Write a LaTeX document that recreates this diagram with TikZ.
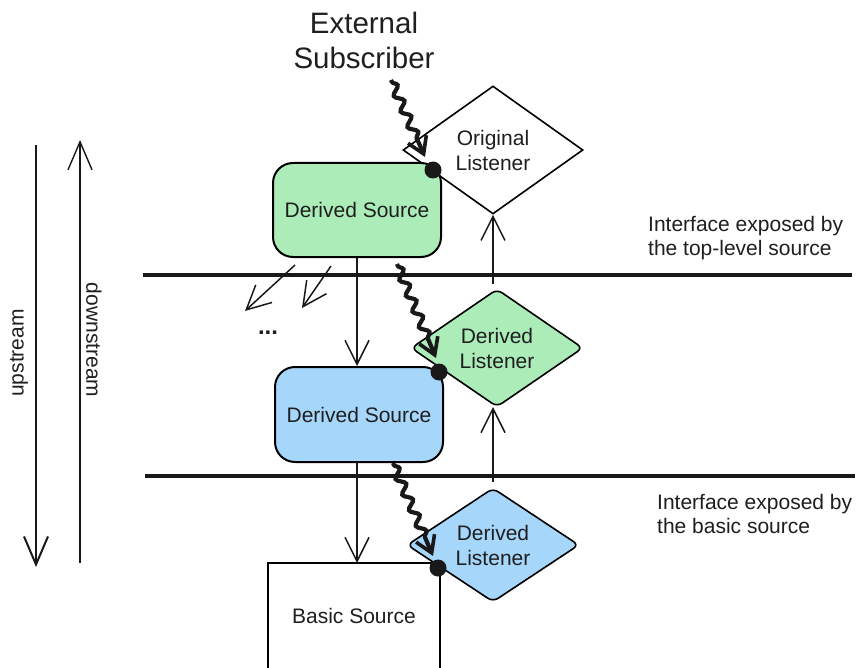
\documentclass[tikz,border=0pt]{standalone}
\usepackage{fontspec}
\setmainfont{Liberation Sans}
\usetikzlibrary{arrows.meta,decorations.pathmorphing,shapes.geometric}
\definecolor{txt}{HTML}{1F1F1F}
\definecolor{gfill}{HTML}{ACECB9}
\definecolor{bfill}{HTML}{A7D6FB}
\begin{document}
\begin{tikzpicture}[x=1pt,y=-1pt,
  lbl/.style={font=\fontsize{21}{25}\selectfont, text=txt, align=center},
  srcbox/.style={lbl, draw=black, line width=2pt, rounded corners=20pt, minimum width=168pt, minimum height=94pt, inner sep=0pt},
  lstn/.style={lbl, diamond, draw=black, line width=1.6pt, inner sep=0pt, shape aspect=1.4},
  dot/.style={circle, fill=black!90, inner sep=0pt, minimum size=17pt},
  flow/.style={draw=black!90, line width=1.5pt, -{Straight Barb[length=24pt,width=24pt,line width=1.5pt]}},
  squig/.style={draw=black!90, line width=4.2pt, decorate,
     decoration={snake, segment length=17pt, amplitude=4pt, pre length=2pt, post length=16pt},
     -{Straight Barb[length=16pt,width=20pt,line width=3.6pt]}},
  divider/.style={draw=black!90, line width=4pt},
  note/.style={font=\fontsize{21}{24}\selectfont, text=txt, align=left, anchor=west, inner sep=0pt}
]
\clip (0,0) rectangle (858,668);
\fill[white] (0,0) rectangle (858,668);

% dividers
\draw[divider] (143,275) -- (852,275);
\draw[divider] (145,476) -- (855,476);

% nodes
\node[lstn, fill=white, minimum width=180pt, minimum height=128pt] (ol) at (493,150) {Original\\Listener};
\node[lstn, fill=gfill, rounded corners=6pt, minimum width=172pt, minimum height=118pt] (dl1) at (497,348) {Derived\\Listener};
\node[lstn, fill=bfill, rounded corners=6pt, minimum width=172pt, minimum height=114pt] (dl2) at (493,545) {Derived\\Listener};

\node[srcbox, fill=gfill] (g) at (357,210) {Derived Source};
\node[srcbox, fill=bfill, minimum height=95pt] (b) at (359,414.5) {Derived Source};
\node[lbl, draw=black, line width=1.6pt, fill=white, minimum width=172pt, minimum height=136pt, inner sep=0pt] (bs) at (354,631) {};
\node[lbl] (bst) at (354,616) {Basic Source};

\node[font=\fontsize{29.5}{35}\selectfont, text=txt, align=center] (ext) at (364,40) {External\\Subscriber};

\node[note] (n1) at (648,238) {Interface exposed by\\the top-level source};
\node[note] (n2) at (657,514) {Interface exposed by\\the basic source};

\node[lbl, font=\fontsize{24}{24}\selectfont\bfseries] (dots) at (268,333) {...};

% dots at subscription points
\node[dot] (d1) at (433,170) {};
\node[dot] (d2) at (439,372) {};
\node[dot] (d3) at (438,568) {};

% flow arrows
\draw[flow] (g.south) -- (g.south |- b.north);
\draw[flow] (357,462) -- (357,563);
\draw[flow, shorten <=6pt] (493,290) -- (ol.south);
\draw[flow, shorten <=5pt] (dl2.north) -- (493,407);

\coordinate (a1s) at (295,265);
\coordinate (a1e) at (245,311);
\coordinate (a2s) at (331,266);
\coordinate (a2e) at (302,308);
\draw[flow] (a1s) -- (a1e);
\draw[flow] (a2s) -- (a2e);

% squiggly subscriptions
\coordinate (s1) at (391,80);
\coordinate (t1) at (425,157);
\coordinate (s2) at (397,264);
\coordinate (t2) at (436,358);
\coordinate (s3) at (393,463);
\coordinate (t3) at (433,556);
\draw[squig] (s1) -- (t1);
\draw[squig] (s2) -- (t2);
\draw[squig] (s3) -- (t3);

% direction arrows
\coordinate (u1) at (36,145);
\coordinate (u2) at (36,567);
\coordinate (w1) at (80,563);
\coordinate (w2) at (80,140);
\draw[draw=black!90, line width=2pt, -{Straight Barb[length=28pt,width=24pt,line width=2pt]}] (u1) -- (u2);
\draw[draw=black!90, line width=1.4pt, -{Straight Barb[length=28pt,width=24pt,line width=1.4pt]}] (w1) -- (w2);
\node[lbl, rotate=90] (up) at (19,353) {upstream};
\node[lbl, rotate=-90] (down) at (94,340) {downstream};
\end{tikzpicture}
\end{document}
